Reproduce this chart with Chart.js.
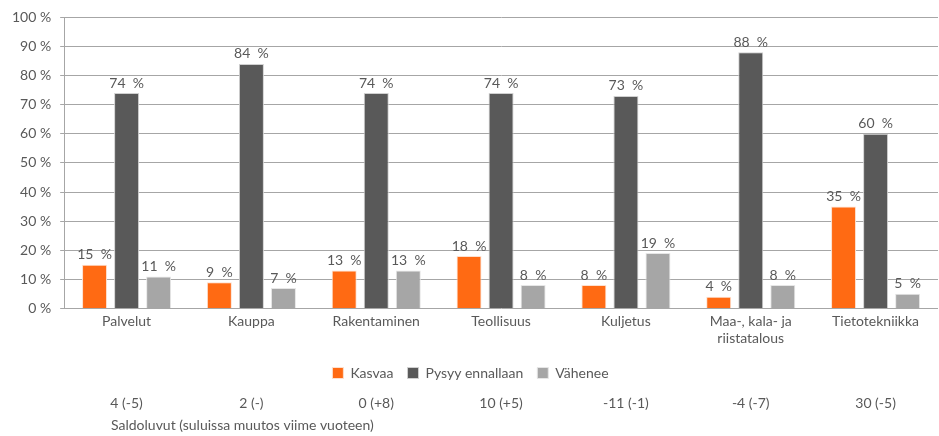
<!DOCTYPE html>
<html>
<head>
<meta charset="utf-8">
<script src="https://cdn.jsdelivr.net/npm/chart.js@4/dist/chart.umd.min.js"></script>
<style>
  html, body { margin: 0; padding: 0; background: #fff; }
  #wrap { width: 939px; height: 436px; position: relative; }
</style>
</head>
<body>
<div id="wrap"><canvas id="chart"></canvas></div>
<script>
const categories = ["Palvelut", "Kauppa", "Rakentaminen", "Teollisuus", "Kuljetus", ["Maa-, kala- ja", "riistatalous"], "Tietotekniikka"];
const kasvaa = [15, 9, 13, 18, 8, 4, 35];
const pysyy = [74, 84, 74, 74, 73, 88, 60];
const vahenee = [11, 7, 13, 8, 19, 8, 5];
const saldo = ["4 (-5)", "2 (-)", "0 (+8)", "10 (+5)", "-11 (-1)", "-4 (-7)", "30 (-5)"];
const caption = "Saldoluvut (suluissa muutos viime vuoteen)";

const textColor = "#595959";
const font = "Lato, 'Open Sans', sans-serif";

const barLabels = {
  id: "barLabels",
  afterDatasetsDraw(chart) {
    const ctx = chart.ctx;
    ctx.save();
    ctx.fillStyle = textColor;
    ctx.font = "14px " + font;
    ctx.textAlign = "center";
    ctx.textBaseline = "bottom";
    chart.data.datasets.forEach((ds, i) => {
      chart.getDatasetMeta(i).data.forEach((bar, j) => {
        ctx.fillText(ds.data[j] + "  %", bar.x, bar.y - 3);
      });
    });
    ctx.restore();
  }
};

const saldoRow = {
  id: "saldoRow",
  afterDraw(chart) {
    const ctx = chart.ctx;
    const x = chart.scales.x;
    ctx.save();
    ctx.fillStyle = textColor;
    ctx.font = "14px " + font;
    ctx.textBaseline = "middle";
    ctx.textAlign = "center";
    saldo.forEach((s, i) => ctx.fillText(s, x.getPixelForValue(i), 403));
    ctx.textAlign = "left";
    ctx.fillText(caption, 111, 425);
    ctx.restore();
  }
};

new Chart(document.getElementById("chart"), {
  type: "bar",
  data: {
    labels: categories,
    datasets: [
      { label: "Kasvaa", data: kasvaa, backgroundColor: "#ff6a13", borderColor: "#fde0cf", borderWidth: 1 },
      { label: "Pysyy ennallaan", data: pysyy, backgroundColor: "#595959", borderColor: "#d0d0d0", borderWidth: 1 },
      { label: "Vähenee", data: vahenee, backgroundColor: "#a6a6a6", borderColor: "#e6e6e6", borderWidth: 1 }
    ]
  },
  options: {
    responsive: true,
    maintainAspectRatio: false,
    animation: false,
    categoryPercentage: 0.77,
    barPercentage: 0.78,
    layout: { padding: { top: 4, right: 1, left: 3, bottom: 46 } },
    plugins: {
      tooltip: { enabled: false },
      legend: {
        position: "bottom",
        labels: {
          color: textColor,
          font: { family: font, size: 14 },
          boxWidth: 11,
          boxHeight: 11,
          padding: 14,
          useBorderRadius: false
        }
      }
    },
    scales: {
      x: {
        grid: { display: false, drawTicks: false, tickLength: 0 },
        border: { display: false },
        ticks: { color: textColor, font: { family: font, size: 14 }, maxRotation: 0, padding: 5 }
      },
      y: {
        min: 0,
        max: 100,
        ticks: {
          stepSize: 10,
          color: textColor,
          font: { family: font, size: 14 },
          padding: 9,
          callback: (v) => v + " %"
        },
        grid: { color: "#a6a6a6", tickLength: 4 },
        border: { color: "#a6a6a6" }
      }
    }
  },
  plugins: [barLabels, saldoRow]
});
</script>
</body>
</html>
